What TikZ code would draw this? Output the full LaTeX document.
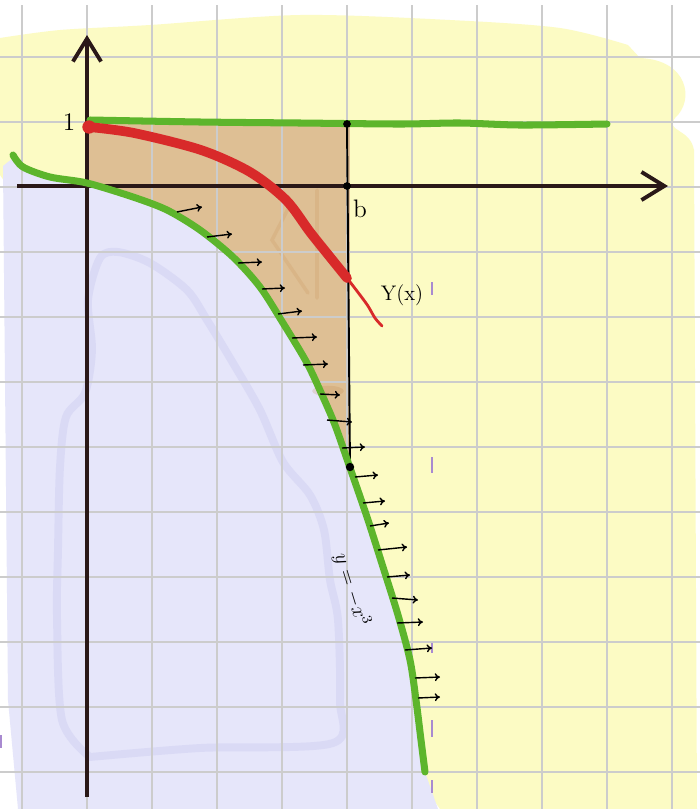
\documentclass[tikz,border=0pt]{standalone}
\usetikzlibrary{arrows.meta}
\definecolor{washyellow}{HTML}{FCFBC4}
\definecolor{washlav}{HTML}{E6E6FA}
\definecolor{lavedge}{HTML}{D3D3F3}
\definecolor{sandtan}{HTML}{DEBF94}
\definecolor{leafgreen}{HTML}{5DB52C}
\definecolor{sketchred}{HTML}{D82A2A}
\definecolor{axisbrown}{HTML}{2A1818}
\definecolor{tickpurple}{HTML}{A88AD0}
\tikzset{
  gridline/.style={black!20,line width=.8pt},
  axisline/.style={axisbrown,line width=2.2pt,-{Straight Barb[length=13pt,width=16pt]}},
  greenline/.style={leafgreen,line width=4pt,line cap=round,line join=round},
  flowarrow/.style={black,line width=.8pt,-{To[length=3pt,width=4.5pt]}},
  blackdot/.style={fill=black}
}
\begin{document}
\begin{tikzpicture}[x=.02cm,y=-.02cm]
\useasboundingbox (0,0) rectangle (700,809);
\fill[white] (0,0) rectangle (700,809);
% washes
\fill[washyellow] plot[smooth] coordinates {(0,38) (60,30) (150,25) (300,15) (450,20) (560,28) (628,45)}
  -- (640,58) .. controls (688,60) and (695,100) .. (675,118) .. controls (665,132) and (690,128) .. (694,150)
  -- (697,809) -- (440,809) -- (0,175) -- cycle;
\fill[sandtan] (87,124) rectangle (350,466);
\fill[washlav] (3,166) -- plot[smooth] coordinates {(13,158) (23,167) (50,177) (87,183) (133,197) (167,210) (200,230) (233,257) (260,287) (283,323) (307,363) (323,397) (335,425) (348,462) (367,517) (383,567) (398,615) (410,660) (416,700) (421,740) (425,772)}
  -- (438,809) -- (18,809) -- (8,700) -- cycle;
\draw[lavedge,line width=4.5pt,line cap=round,line join=round,opacity=.6] plot[smooth] coordinates {(90,757) (62,720) (57,617) (58,550) (60,467) (66,417) (85,393) (92,350) (88,300) (100,258) (118,252) (150,263) (187,290) (207,320) (233,363) (260,410) (283,462) (310,495) (324,530) (330,580) (338,620) (340,700) (333,743) (200,748) (90,757)};
\draw[brown,line width=2pt,opacity=.15,line cap=round] (290,205) -- (272,240) -- (308,293) (317,190) -- (317,298);
\fill[brown,opacity=.2] (328,391) ellipse[x radius=9pt,y radius=3pt];
% grid
\foreach \gx in {22,87,...,672} \draw[gridline] (\gx,5) -- (\gx,809);
\foreach \gy in {57,122,...,772} \draw[gridline] (0,\gy) -- (700,\gy);
\foreach \ty/\tz in {282/295,457/473,643/653,720/737,780/793} \draw[tickpurple,line width=.8pt] (432,\ty) -- (432,\tz);
\draw[tickpurple,line width=1.5pt] (1,735) -- (1,748);
% axes
\draw[axisline] (17,186) -- (668,186);
\draw[axisline] (87,797) -- (87,35);
\draw[line width=1.1pt] (347,124) -- (350,467);
% curves
\draw[greenline] plot[smooth] coordinates {(90,120) (200,122) (300,123) (400,124) (460,123) (520,125) (607,124)};
\draw[greenline] plot[smooth] coordinates {(13,155) (23,167) (50,177) (87,183) (133,197) (167,210) (200,230) (233,257) (260,287) (283,323) (307,363) (323,397) (335,425) (348,462) (367,517) (383,567) (398,615) (410,660) (416,700) (421,740) (425,772)};
\draw[sketchred,line width=5.5pt,line cap=round] plot[smooth] coordinates {(89,127) (134,133) (201,150) (250,172) (286,200) (310,232) (330,257) (347,278)};
\draw[sketchred,line width=1.6pt,line cap=round] plot[smooth] coordinates {(347,278) (360,295) (368,306) (375,318) (382,326)};
\fill[sketchred] (89,127) circle[radius=3.8pt];
% field arrows
\foreach \ax/\ay/\bx/\by in {177/212/202/207,207/237/232/234,238/263/262/262,262/289/285/288,278/314/302/311,
  292/338/317/337,303/365/328/364,320/394/340/395,327/420/352/422,342/448/365/447,355/477/378/475,
  363/503/385/501,370/526/389/523,378/550/407/547,387/577/410/575,392/598/418/600,397/623/423/622,
  405/650/432/648,415/678/440/677,418/698/440/697}
  \draw[flowarrow] (\ax,\ay) -- (\bx,\by);
\fill[blackdot] (347,124) circle[radius=2.2pt] (347,186) circle[radius=2.2pt] (350,467) circle[radius=2.4pt];
% labels
\node[font=\Large] (one) at (69,122) {1};
\node[font=\Large] (bval) at (360,209) {b};
\node[font=\large] (yofx) at (402,295) {Y(x)};
\node[rotate=-73,font=\large] (cubic) at (352,590) {$y=-x^3$};
\end{tikzpicture}
\end{document}
